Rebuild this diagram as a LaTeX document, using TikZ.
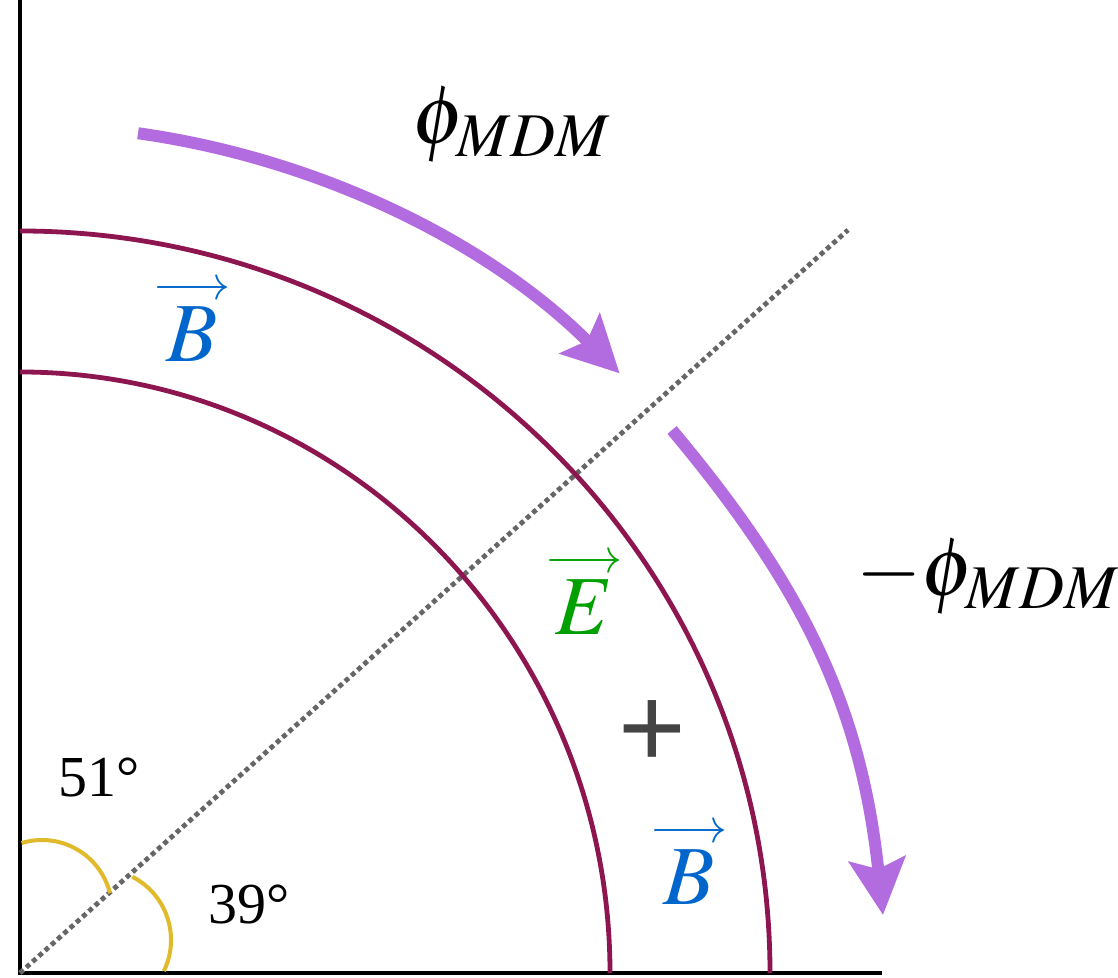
\documentclass[tikz,border=0pt]{standalone}
\usepackage{mathptmx}
\usepackage[no-math]{fontspec}
\setmainfont{Liberation Serif}
\newfontfamily\plusfont{Liberation Sans}
\usetikzlibrary{arrows.meta}

\newcommand{\vecarrow}{{\fontsize{24}{24}\selectfont$\longrightarrow$}}

\begin{document}
\begin{tikzpicture}[
    x=0.5pt, y=0.5pt,
    every node/.style = {font=\fontsize{29}{34}\selectfont, inner sep=0pt},
    axis/.style = {line width=2pt, color=black},
    ring/.style = {line width=2.4pt, color={rgb,255:red,142;green,22;blue,80}},
    flow/.style = {
        line width=6pt, color={rgb,255:red,179;green,107;blue,224},
        -{Stealth[length=28pt,width=28pt,inset=5pt]}
    },
    anglemark/.style = {line width=2pt, color={rgb,255:red,224;green,186;blue,42}},
    guide/.style = {
        line width=2.4pt, color={rgb,255:red,102;green,102;blue,102},
        dash pattern=on 2.4pt off 1.8pt
    },
    big/.style = {font=\fontsize{42}{48}\selectfont},
    vecfield/.style = {font=\fontsize{42}{31}\selectfont, align=center, anchor=south},
    bfield/.style = {vecfield, text={rgb,255:red,0;green,102;blue,204}},
    efield/.style = {vecfield, text={rgb,255:red,0;green,160;blue,0}}
]
\useasboundingbox (-20,-5) rectangle (1098,973);

%% Axes and guide line
\coordinate (O)    at (0,0);
\coordinate (top)  at (0,973);
\coordinate (right) at (862,0);
\coordinate (diag) at (828,743);
\draw[axis] (top) -- (O) -- (right);
\draw[guide] (O) -- (diag);

%% Rings
\draw[ring] (0,601) arc[start angle=90, end angle=0, x radius=590, y radius=601];
\draw[ring] (0,742) arc[start angle=90, end angle=0, x radius=750, y radius=742];

%% Angle marks
\draw[anglemark] ([shift={(22,63)}]107:70) arc[start angle=107, end angle=14, radius=70];
\draw[anglemark] ([shift={(80,33)}]63:71) arc[start angle=63, end angle=-26, radius=71];
\node (a51) at (79,195) {51°};
\node (a39) at (229,68) {39°};

%% Phase arrows
\draw[flow] (82:848) arc[start angle=82, end angle=45, radius=848];
\draw[flow] (652,543) to[out=-50, in=96] (863,58);
\node[big] (phi)    at (492,848) {$\phi_{MDM}$};
\node[big, anchor=west] (negphi) at (836,396) {${-}\phi_{MDM}$};

%% Field labels
\node[bfield] (Bup)   at (172,611) {\vecarrow\\$B$};
\node[bfield] (Bdown) at (669,68)  {\vecarrow\\$B$};
\node[efield] (E)     at (564,338) {\vecarrow\\$E$};
\node[font=\plusfont\fontsize{58}{64}\selectfont, text={rgb,255:red,68;green,68;blue,68}]
    (plus) at (632,239) {+};

\end{tikzpicture}
\end{document}
